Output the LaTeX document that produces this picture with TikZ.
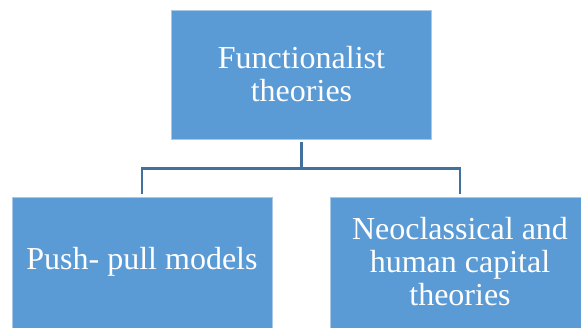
\documentclass[tikz,border=0pt]{standalone}
\usepackage{fontspec}
\setmainfont{Liberation Serif}
\usepackage{tikz}
\usetikzlibrary{positioning}
\definecolor{boxfill}{HTML}{5B9BD5}
\definecolor{boxedge}{HTML}{A9C8E8}
\definecolor{linkblue}{HTML}{41719C}

\begin{document}
\begin{tikzpicture}[
 x=1pt,y=-1pt,
 b/.style={draw=boxedge,line width=0.8pt,fill=boxfill,text=white,align=center,
  minimum width=260pt,minimum height=129pt,inner sep=0pt,
  font=\fontsize{32}{33}\selectfont},
 lb/.style={b,anchor=north,minimum height=140pt},
 c/.style={draw=linkblue,line width=2.4pt}
]
\useasboundingbox (0,0) rectangle (581,327);
\clip (0,0) rectangle (581,327);
\node[b] (func) at (301.5,74.5) {Functionalist\\theories};
\node[lb] (push) at (142,197) {\raisebox{5.5pt}[\height][\depth]{Push- pull models}};
\node[lb] (neo) at (460,197) {\raisebox{1.5pt}[\height][\depth]{\begin{tabular}{@{}c@{}}Neoclassical and\\human capital\\theories\end{tabular}}};
\draw[c] ([yshift=-3pt]func.south) -- ++(0,26) coordinate (split) -| ([yshift=3pt]push.north);
\draw[c] (split) -| ([yshift=3pt]neo.north);
\end{tikzpicture}
\end{document}
